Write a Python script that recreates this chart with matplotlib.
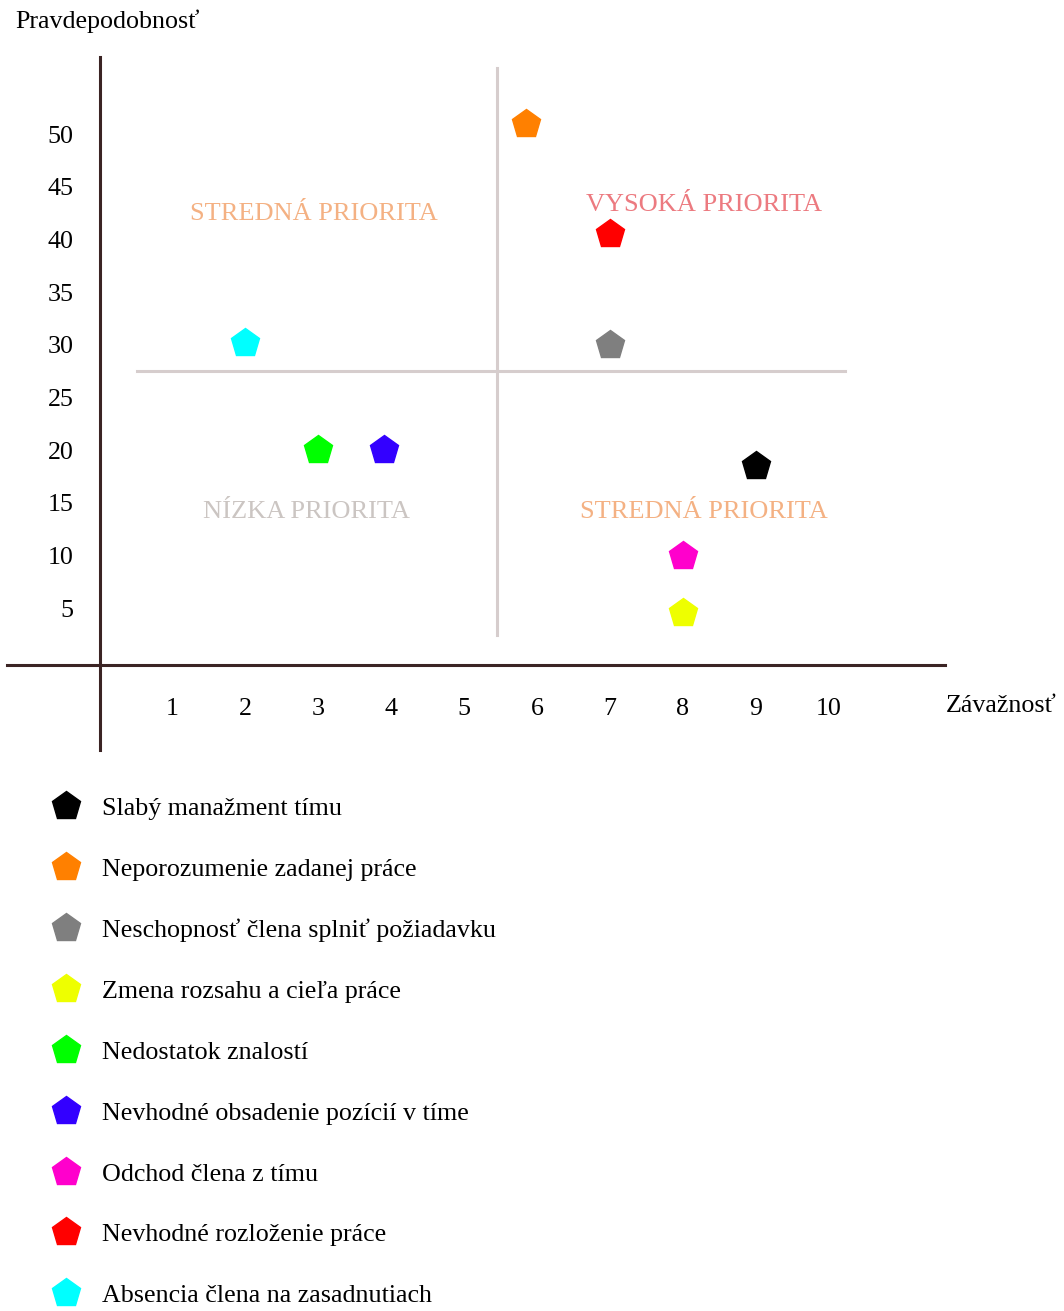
import matplotlib
matplotlib.use("Agg")
import matplotlib.pyplot as plt

plt.rcParams['font.family'] = ['Liberation Serif', 'DejaVu Serif']

# risks (legend order)
risks = [
    "Slabý manažment tímu",
    "Neporozumenie zadanej práce",
    "Neschopnosť člena splniť požiadavku",
    "Zmena rozsahu a cieľa práce",
    "Nedostatok znalostí",
    "Nevhodné obsadenie pozícií v tíme",
    "Odchod člena z tímu",
    "Nevhodné rozloženie práce",
    "Absencia člena na zasadnutiach",
]
severity = [9, 5.85, 7, 8, 3, 3.9, 8, 7, 2]
probability = [18.5, 51, 30, 4.5, 20, 20, 10, 40.5, 30.2]
colors = ["#000000", "#ff8000", "#7f7f7f", "#eeff00", "#00ff00",
          "#3300ff", "#ff00cc", "#ff0000", "#00ffff"]

x_ticks = [1, 2, 3, 4, 5, 6, 7, 8, 9, 10]
y_ticks = [5, 10, 15, 20, 25, 30, 35, 40, 45, 50]

quadrants = [
    ("STREDNÁ PRIORITA", 2.94, 42.4, "#f4b183"),
    ("VYSOKÁ PRIORITA", 8.29, 43.3, "#ec7a80"),
    ("NÍZKA PRIORITA", 2.84, 14.1, "#cbc5c2"),
    ("STREDNÁ PRIORITA", 8.29, 14.1, "#f4b183"),
]

fig = plt.figure(figsize=(10.64, 13.11), dpi=100)
ax = fig.add_axes([0, 0, 1, 1])
ax.set_xlim(-1.367, 13.228)
ax.set_ylim(-61.72, 62.74)

# axes through the origin
axis_col = "#3b2424"
for s in ["top", "right"]:
    ax.spines[s].set_visible(False)
ax.spines["left"].set_position(("data", 0))
ax.spines["bottom"].set_position(("data", -0.4))
ax.spines["left"].set_bounds(-8.5, 57.3)
ax.spines["bottom"].set_bounds(-1.27, 11.6)
for s in ["left", "bottom"]:
    ax.spines[s].set_color(axis_col)
    ax.spines[s].set_linewidth(2.2)

ax.set_xticks(x_ticks)
ax.set_yticks(y_ticks)
ax.tick_params(axis="x", length=0, pad=24, labelsize=18.7)
ax.tick_params(axis="y", length=0, pad=19, labelsize=18.7)

# quadrant dividers
ax.plot([5.45, 5.45], [2.45, 56.3], color="#d6cdcd", lw=2.2, zorder=1)
ax.plot([0.51, 10.22], [27.5, 27.5], color="#d6cdcd", lw=2.2, zorder=1)

for txt, x, y, c in quadrants:
    ax.text(x, y, txt, color=c, fontsize=19, ha="center", va="center")

ax.text(-1.16, 60.7, "Pravdepodobnosť", fontsize=18.7, ha="left", va="center")
ax.text(11.61, -4.3, "Závažnosť", fontsize=18.7, ha="left", va="center")

handles = []
for name, x, y, c in zip(risks, severity, probability, colors):
    h, = ax.plot(x, y, marker="p", markersize=21, color=c, linestyle="none",
                 label=name, zorder=3)
    handles.append(h)

fig.legend(handles=handles, loc="upper left", bbox_to_anchor=(0.048, 0.392),
           frameon=False, fontsize=18.7, numpoints=1, handlelength=1.15,
           handletextpad=0.8, labelspacing=1.45, borderpad=0, borderaxespad=0)

fig.savefig("out.png", dpi=100)
